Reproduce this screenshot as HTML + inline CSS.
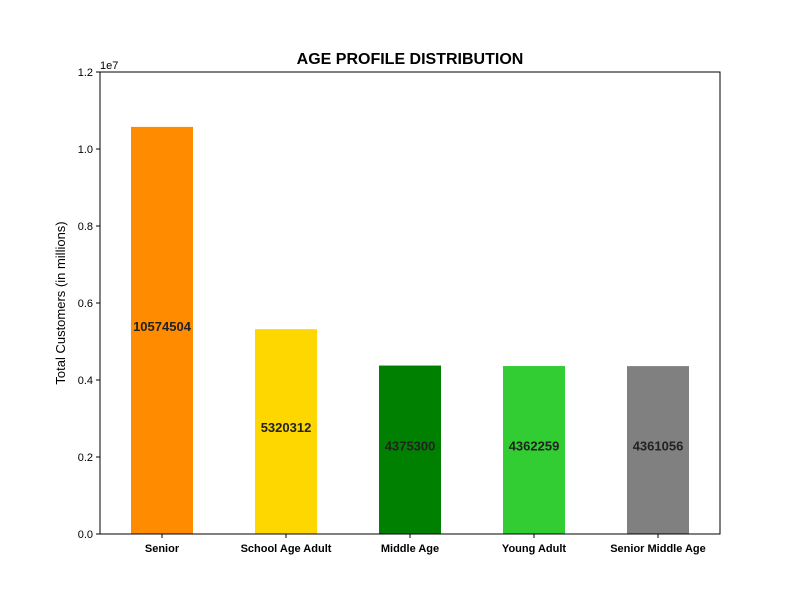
<!DOCTYPE html>
<html><head><meta charset="utf-8"><style>
html,body{margin:0;padding:0;background:#fff;}
svg{display:block;font-family:"Liberation Sans","DejaVu Sans",sans-serif;}
</style></head><body>
<svg id="chart" width="800" height="600" viewBox="0 0 800 600">
<rect width="800" height="600" fill="#fff"/>
<text x="410" y="64" text-anchor="middle" font-size="16" font-weight="bold">AGE PROFILE DISTRIBUTION</text>
<text x="100" y="69" font-size="11">1e7</text>
<text transform="translate(65,303) rotate(-90)" text-anchor="middle" font-size="13">Total Customers (in millions)</text>
<g id="bars"></g>
<g id="yticks"></g>
<g id="xticks"></g>
<rect x="100" y="72" width="620" height="462" fill="none" stroke="#000" stroke-width="1"/>
</svg>
<script>
const categories = ["Senior","School Age Adult","Middle Age","Young Adult","Senior Middle Age"];
const values = [10574504,5320312,4375300,4362259,4361056];
const colors = ["#FF8C00","#FFD700","#008000","#32CD32","#808080"];
const yTickValues = [0,2000000,4000000,6000000,8000000,10000000,12000000];
const yTickLabels = ["0.0","0.2","0.4","0.6","0.8","1.0","1.2"];
const L=100,R=720,T=72,B=534,YMAX=12000000;
const NS="http://www.w3.org/2000/svg";
const step=(R-L)/categories.length;
function xCenter(i){return L+step*(i+0.5);}
function y(v){return B-(v/YMAX)*(B-T);}
function mk(tag,attrs){const e=document.createElementNS(NS,tag);for(const k in attrs)e.setAttribute(k,attrs[k]);return e;}
const bars=document.getElementById('bars'),yt=document.getElementById('yticks'),xt=document.getElementById('xticks');
values.forEach((v,i)=>{
  const w=step*0.5;
  const r=mk('rect',{x:xCenter(i)-w/2,y:y(v),width:w,height:B-y(v),fill:colors[i]});
  
  
  bars.appendChild(r);
  const t=mk('text',{x:xCenter(i),y:y(v/2)+0.5,'text-anchor':'middle','font-size':13,'font-weight':'bold',fill:'#222'});
  t.textContent=String(v);
  
  
  bars.appendChild(t);
  const tk=mk('line',{x1:xCenter(i),x2:xCenter(i),y1:B,y2:B+4,stroke:'#000'});
  
  
  xt.appendChild(tk);
  const xl=mk('text',{x:xCenter(i),y:B+18,'text-anchor':'middle','font-size':11,'font-weight':'bold'});
  xl.textContent=categories[i];
  
  
  xt.appendChild(xl);
});
yTickValues.forEach((v,i)=>{
  const tk=mk('line',{x1:L-4,x2:L,y1:y(v),y2:y(v),stroke:'#000'});
  
  
  yt.appendChild(tk);
  const t=mk('text',{x:L-7,y:y(v)+4,'text-anchor':'end','font-size':11});
  t.textContent=yTickLabels[i];
  
  
  yt.appendChild(t);
});
</script>
</body></html>
